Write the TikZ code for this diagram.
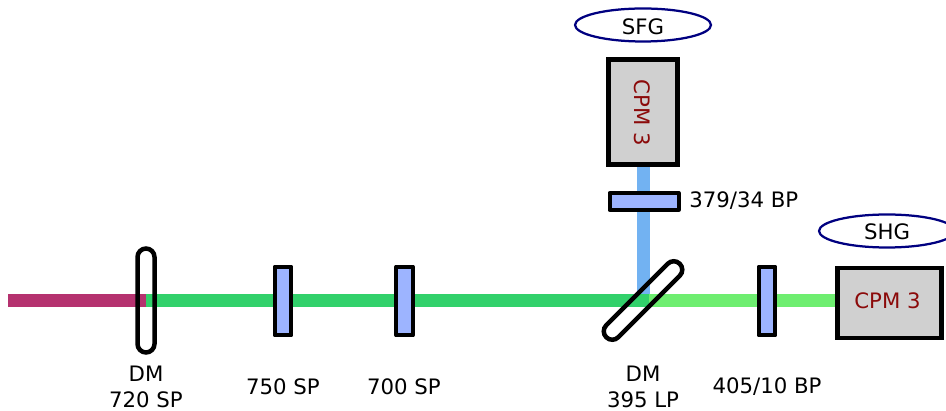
\documentclass[tikz,border=0pt]{standalone}
\usepackage{fontspec}
\setmainfont{DejaVu Sans}
\usetikzlibrary{backgrounds,shapes.geometric}
\definecolor{beamred}{HTML}{B5326F}
\definecolor{beamgreen}{HTML}{32D16B}
\definecolor{beamlight}{HTML}{6EEE70}
\definecolor{beamblue}{HTML}{72B2F2}
\definecolor{filterblue}{HTML}{9DB4FF}
\definecolor{cpmgray}{HTML}{D0D0D0}
\definecolor{cpmred}{HTML}{8B0A0A}
\tikzset{
  lbl/.style={inner sep=0pt,align=center,font=\fontsize{12.1}{14.8}\selectfont},
  filterbox/.style={draw,line width=0.08cm,line join=round,fill=filterblue,inner sep=0pt,outer sep=0pt},
  dichroic/.style={draw,line width=0.09cm,rounded corners=0.17cm,minimum width=0.34cm,minimum height=2.08cm,inner sep=0pt,outer sep=0pt},
  cpmbox/.style={draw,line width=0.09cm,fill=cpmgray,text=cpmred,inner sep=0pt,outer sep=0pt},
  tag/.style={draw=blue!50!black,line width=0.045cm,ellipse,inner sep=0pt,minimum height=0.66cm},
  beam/.style={line width=0.26cm}
}
\begin{document}
\begin{tikzpicture}[x=0.02cm,y=-0.02cm]
  \useasboundingbox (0,0) rectangle (946,411);
  % mirrors
  \node[dichroic] (dmred) at (146,300.5) {};
  \node[dichroic,rotate=-45] (dmuv) at (643,300.5) {};
  % filters on the beam
  \foreach \x/\name in {283/sp750,404.5/sp700,767/bp405}
    \node[filterbox,minimum width=0.33cm,minimum height=1.38cm] (\name) at (\x,301) {};
  \node[filterbox,minimum width=1.38cm,minimum height=0.34cm] (bp379) at (644,201.5) {};
  % detectors
  \node[cpmbox,minimum width=1.38cm,minimum height=2.1cm] (cpmtop) at (643,112) {};
  \node[lbl,rotate=-90,text=cpmred] (cpmtoptext) at (642,113) {CPM 3};
  \node[cpmbox,minimum width=2.08cm,minimum height=1.4cm] (cpmright) at (889.5,303) {};
  \node[lbl,text=cpmred] (cpmrighttext) at (887.5,301) {CPM 3};
  \node[tag,minimum width=2.72cm] (sfg) at (643,25) {};
  \node[lbl] (sfgtext) at (643,27) {SFG};
  \node[tag,minimum width=2.72cm] (shg) at (887,231) {};
  \node[lbl] (shgtext) at (887,232) {SHG};
  % labels
  \node[lbl] (dmredtext) at (146,387) {DM\\720 SP};
  \node[lbl] (sp750text) at (283,387) {750 SP};
  \node[lbl] (sp700text) at (404,387) {700 SP};
  \node[lbl] (dmuvtext) at (643,387) {DM\\395 LP};
  \node[lbl] (bp405text) at (767,387) {405/10 BP};
  \node[lbl,anchor=west] (bp379text) at (689,200.5) {379/34 BP};
  \coordinate (start) at (8,300.5);
  \coordinate (split) at (649,300.5);
  \coordinate (bluefoot) at (643,294);
  % beams go under everything
  \begin{scope}[on background layer]
    \draw[beam,beamlight] (split) -- (split-|cpmright.west);
    \draw[beam,beamblue] (cpmtop.south) -- (bluefoot);
    \draw[beam,beamgreen] (dmred.center) -- (split);
    \draw[beam,beamred] (start) -- (dmred.center);
  \end{scope}
\end{tikzpicture}
\end{document}
